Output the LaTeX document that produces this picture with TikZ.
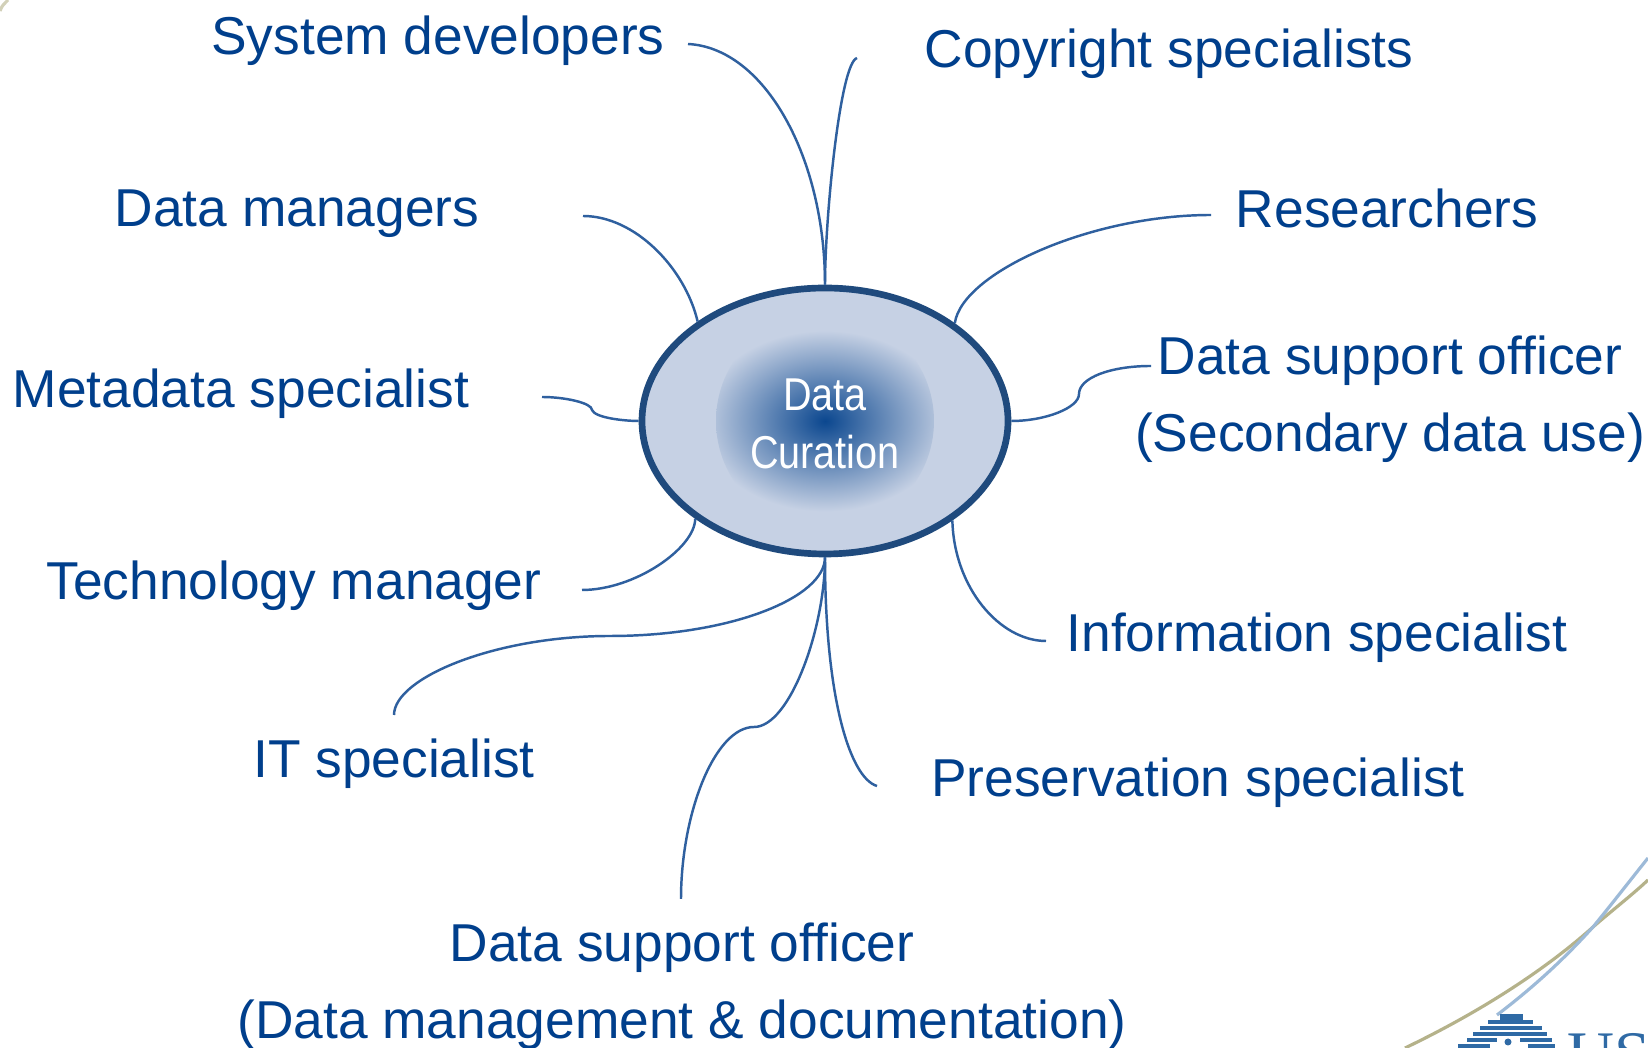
\documentclass[tikz,border=0pt]{standalone}
\usepackage{fontspec}
\setmainfont{Liberation Sans}
\newfontfamily\logofont{Liberation Serif}
\usepackage{xcolor}
\usepackage{tikz}
\usetikzlibrary{shapes.geometric}
\definecolor{labelblue}{HTML}{003F8C}
\definecolor{linkblue}{HTML}{2F609F}
\definecolor{rimblue}{HTML}{1F4A7D}
\definecolor{corefill}{HTML}{0B478F}
\definecolor{paleblue}{HTML}{C6D1E4}
\definecolor{swooshgold}{HTML}{B5B28A}
\definecolor{swooshblue}{HTML}{9DBAD8}
\definecolor{logoblue}{HTML}{2F6AA5}
\pgfdeclareradialshading{hubglow}{\pgfpointorigin}{color(0bp)=(corefill); color(17bp)=(paleblue); color(50bp)=(paleblue)}
\tikzset{
  role/.style={text=labelblue, font=\fontsize{15.17}{21.9}\selectfont, align=center, inner sep=0pt},
  link/.style={draw=linkblue, line width=0.7pt},
  hub/.style={ellipse, draw=rimblue, fill=paleblue, line width=1.9pt, minimum width=3.66cm, minimum height=2.66cm, inner sep=0pt},
  hubtext/.style={text=white, font=\fontsize{13.1}{16.3}\selectfont, align=center, xscale=0.86},
  swoosh/.style={line width=0.9pt},
  stripe/.style={draw=logoblue, line width=1pt}
}

\begin{document}
\begin{tikzpicture}
  \clip (0,0) rectangle (16.48,10.48);
  \fill[white] (0,0) rectangle (16.48,10.48);

  \draw[swoosh, swooshgold, opacity=0.6] (0,10.37) .. controls (0.02,10.42) .. (0.08,10.48);
  \draw[swoosh, swooshgold] (14.05,0) .. controls (14.8,0.36) and (15.45,0.78) .. (15.93,1.21) .. controls (16.15,1.40) and (16.32,1.53) .. (16.48,1.68);
  \draw[swoosh, swooshblue] (14.97,0.33) .. controls (15.35,0.62) and (15.65,0.90) .. (15.93,1.21) .. controls (16.15,1.48) and (16.32,1.70) .. (16.48,1.90);

  \draw[stripe, line width=1.5pt] (15.00,0.31) -- (15.23,0.31);
  \foreach \ya/\xl/\xr in {0.26/14.88/15.33, 0.20/14.80/15.42, 0.14/14.73/15.47}
    \draw[stripe] (\xl,\ya) -- (\xr,\ya);
  \foreach \ya/\xl/\xr in {0.08/14.67/14.97, 0.08/15.20/15.52, 0.02/14.58/14.90, 0.02/15.28/15.55}
    \draw[stripe] (\xl,\ya) -- (\xr,\ya);
  \fill[logoblue] (15.08,0.06) circle (0.035);
  \node[text=logoblue, font=\logofont\fontsize{18.5}{18.5}\selectfont, anchor=base west, inner sep=0pt] (logotext) at (15.67,-0.29) {US};

  \node[hub, path picture={\shade[shading=hubglow] (path picture bounding box.center) circle (1.09);}] (curation) at (8.25,6.27) {};
  \node[hubtext] (curationtext) at (8.25,6.24) {Data\\Curation};

  \node[role] (sysdev) at (4.38,10.07) {System developers};
  \node[role] (copyright) at (11.69,9.94) {Copyright specialists};
  \node[role] (datamgr) at (2.97,8.34) {Data managers};
  \node[role] (researcher) at (13.87,8.40) {Researchers};
  \node[role] (metadata) at (2.41,6.54) {Metadata specialist};
  \node[role] (secondary) at (13.90,6.49) {Data support officer\\(Secondary data use)};
  \node[role] (techmgr) at (2.94,4.62) {Technology manager};
  \node[role] (infospec) at (13.17,4.10) {Information specialist};
  \node[role] (itspec) at (3.94,2.84) {IT specialist};
  \node[role] (preserve) at (11.98,2.65) {Preservation specialist};
  \node[role] (documentation) at (6.82,0.62) {Data support officer\\(Data management \& documentation)};

  \coordinate (sysdevEnd) at (6.88,10.04);
  \coordinate (copyrightEnd) at (8.57,9.90);
  \coordinate (datamgrEnd) at (5.83,8.32);
  \coordinate (researcherEnd) at (12.11,8.33);
  \coordinate (metadataEnd) at (5.42,6.51);
  \coordinate (metadataBend) at (5.92,6.38);
  \coordinate (secondaryEnd) at (11.51,6.82);
  \coordinate (secondaryBend) at (10.79,6.54);
  \coordinate (techmgrEnd) at (5.82,4.58);
  \coordinate (infospecEnd) at (10.46,4.07);
  \coordinate (itspecEnd) at (3.94,3.33);
  \coordinate (itspecBend) at (6.10,4.12);
  \coordinate (preserveEnd) at (8.77,2.62);
  \coordinate (documentationEnd) at (6.81,1.49);
  \coordinate (documentationBend) at (7.54,3.21);

  \draw[link] (sysdevEnd) .. controls (7.65,10.0) and (8.25,8.9) .. (curation.north);
  \draw[link] (copyrightEnd) .. controls (8.40,9.85) and (8.25,8.3) .. (curation.north);
  \draw[link] (datamgrEnd) .. controls (6.35,8.32) and (6.85,7.8) .. (curation.142.5);
  \draw[link] (researcherEnd) .. controls (10.9,8.33) and (9.62,7.75) .. (curation.37.5);
  \draw[link] (metadataEnd) .. controls (5.65,6.51) and (5.92,6.45) .. (metadataBend) .. controls (5.95,6.30) and (6.25,6.27) .. (curation.west);
  \draw[link] (secondaryEnd) .. controls (11.1,6.82) and (10.79,6.70) .. (secondaryBend) .. controls (10.79,6.40) and (10.45,6.27) .. (curation.east);
  \draw[link] (techmgrEnd) .. controls (6.35,4.58) and (6.95,5.0) .. (curation.217.5);
  \draw[link] (infospecEnd) .. controls (10.0,4.07) and (9.54,4.6) .. (curation.322.5);
  \draw[link] (itspecEnd) .. controls (3.94,3.70) and (4.95,4.12) .. (itspecBend) .. controls (7.3,4.12) and (8.25,4.5) .. (curation.south);
  \draw[link] (documentationEnd) .. controls (6.81,2.35) and (7.15,3.21) .. (documentationBend) .. controls (7.9,3.21) and (8.25,4.2) .. (curation.south);
  \draw[link] (preserveEnd) .. controls (8.50,2.70) and (8.25,3.5) .. (curation.south);
\end{tikzpicture}
\end{document}
